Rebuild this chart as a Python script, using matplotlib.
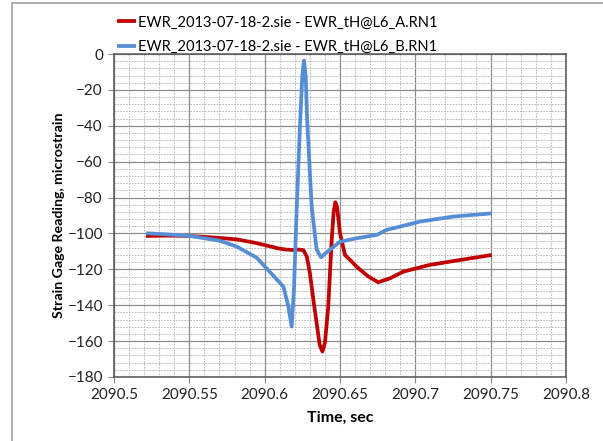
import matplotlib
matplotlib.use("Agg")
import matplotlib.pyplot as plt
from matplotlib.patches import Rectangle
from matplotlib.ticker import MultipleLocator

plt.rcParams['font.family'] = ['Lato', 'DejaVu Sans']

label_a = "EWR_2013-07-18-2.sie - EWR_tH@L6_A.RN1"
label_b = "EWR_2013-07-18-2.sie - EWR_tH@L6_B.RN1"

time_a = [2090.5212, 2090.535, 2090.5504, 2090.570, 2090.5814, 2090.5947, 2090.6035,
          2090.6089, 2090.614, 2090.619, 2090.6225, 2090.6257, 2090.628, 2090.630,
          2090.6325, 2090.6345, 2090.6365, 2090.6383, 2090.640, 2090.6422, 2090.6445,
          2090.6458, 2090.6469, 2090.648, 2090.650, 2090.6533, 2090.657, 2090.661,
          2090.6688, 2090.6754, 2090.6832, 2090.692, 2090.7097, 2090.7296, 2090.7507]
strain_a = [-101.4, -101.2, -101.4, -102.5, -103.3, -105.4, -107.2,
            -108.3, -109.0, -109.2, -109.0, -109.3, -113, -122,
            -138, -150, -162, -165.8, -161, -140.8, -103.6,
            -88, -82.6, -85, -99.8, -112, -115, -118.5,
            -124, -127.2, -125, -121.3, -117.5, -114.8, -112]

time_b = [2090.5212, 2090.535, 2090.5504, 2090.570, 2090.5814, 2090.5947, 2090.6035,
          2090.6124, 2090.6157, 2090.6179, 2090.6195, 2090.6213, 2090.6235,
          2090.625, 2090.6261, 2090.6272, 2090.6283, 2090.6312, 2090.6345, 2090.6374,
          2090.6405, 2090.6434, 2090.650, 2090.661, 2090.6744, 2090.681, 2090.6898,
          2090.703, 2090.7252, 2090.7507]
strain_b = [-99.9, -100.5, -101.4, -104, -107.3, -113.5, -121.5,
            -129.6, -140.5, -151.9, -130, -85, -38.6,
            -12, -3.7, -12, -38.6, -85, -109, -113.3,
            -111, -109, -104.6, -102.7, -100.8, -98, -96.2,
            -93.4, -90.6, -88.8]

x_ticks = [2090.5, 2090.55, 2090.6, 2090.65, 2090.7, 2090.75, 2090.8]
x_tick_labels = ["2090.5", "2090.55", "2090.6", "2090.65", "2090.7", "2090.75", "2090.8"]
y_ticks = list(range(-180, 1, 20))

fig = plt.figure(figsize=(6.03, 4.41), dpi=100)
fig.patches.append(Rectangle((11.5 / 603, -0.1), 1.2, 1.1 - 3 / 441, transform=fig.transFigure,
                             fill=False, edgecolor='#a0a0a0', linewidth=1.2, zorder=0))
ax = fig.add_axes([114 / 603, 1 - 377 / 441, 452 / 603, 323 / 441])

ax.plot(time_a, strain_a, color='#c00000', linewidth=2.7, label=label_a, zorder=3,
        solid_joinstyle='round', solid_capstyle='butt')
ax.plot(time_b, strain_b, color='#558ed5', linewidth=2.7, label=label_b, zorder=4,
        solid_joinstyle='round', solid_capstyle='butt')

ax.set_xlim(2090.5, 2090.8)
ax.set_ylim(-180, 0)
ax.set_xticks(x_ticks)
ax.set_xticklabels(x_tick_labels)
ax.set_yticks(y_ticks)
ax.xaxis.set_minor_locator(MultipleLocator(0.01))
ax.yaxis.set_minor_locator(MultipleLocator(4))
ax.grid(which='major', color='#8c8c8c', linewidth=0.9, linestyle='-')
ax.grid(which='minor', color='#b0b0b0', linewidth=0.6, linestyle=(0, (2, 1.5)))
ax.set_axisbelow(True)
ax.tick_params(which='major', direction='out', length=4, width=0.8, color='#888888',
               labelsize=11, labelcolor='#222222', pad=4)
ax.tick_params(which='minor', length=0)
for s in ax.spines.values():
    s.set_color('#555555')
    s.set_linewidth(1.1)

ax.set_xlabel("Time, sec", fontsize=11.5, fontweight='bold', labelpad=6)
ax.set_ylabel("Strain Gage Reading, microstrain", fontsize=10.2, fontweight='bold', labelpad=2)

leg = ax.legend(loc='lower left', bbox_to_anchor=(0.0, 0.9916), frameon=False,
                fontsize=10.5, handlelength=1.3, handletextpad=0.15, labelspacing=0.7,
                borderaxespad=0.0, borderpad=0.2)

fig.savefig("out.png", dpi=100)
